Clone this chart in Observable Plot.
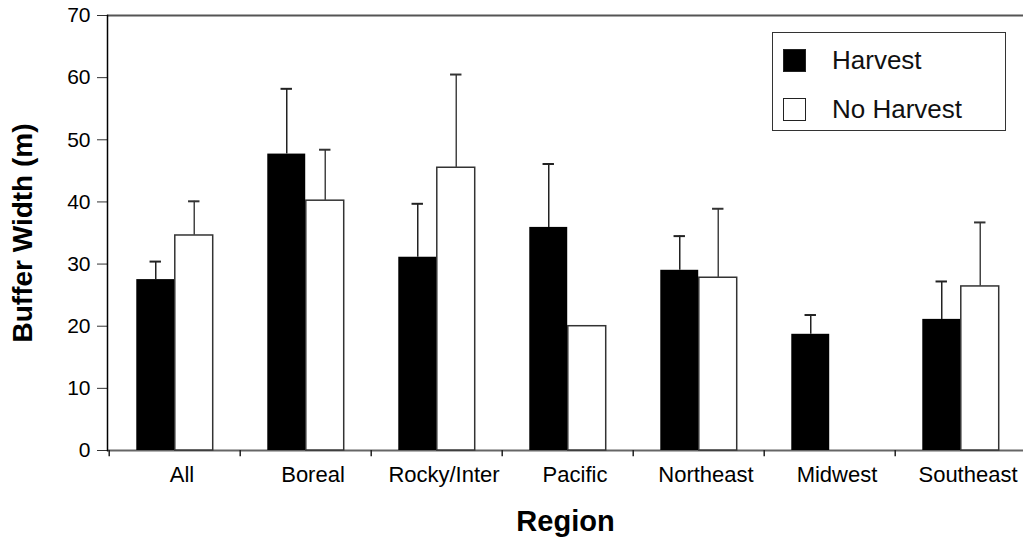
<!DOCTYPE html>
<html>
<head>
<meta charset="utf-8">
<script src="https://cdn.jsdelivr.net/npm/d3@7"></script>
<script src="https://cdn.jsdelivr.net/npm/@observablehq/plot@0.6"></script>
<style>
  html, body { margin: 0; padding: 0; background: #fff; overflow: hidden; }
  #wrap { position: relative; width: 1023px; height: 539px; font-family: "Liberation Sans", Arial, sans-serif; }
  #legend { position: absolute; left: 772px; top: 32px; width: 234px; height: 99px; border: 1.5px solid #333; background: #fff; box-sizing: border-box; }
  .item { position: absolute; left: 10px; display: flex; align-items: center; font-size: 26px; color: #111; }
  .sw { width: 23px; height: 23px; box-sizing: border-box; margin-right: 26px; }
</style>
</head>
<body>
<div id="wrap"></div>
<script>
const regions = ["All", "Boreal", "Rocky/Inter", "Pacific", "Northeast", "Midwest", "Southeast"];
const seriesNames = ["Harvest", "No Harvest"];
const harvest = [27.5, 47.7, 31.1, 35.9, 29.0, 18.7, 21.1];
const harvestErr = [2.9, 10.5, 8.6, 10.2, 5.5, 3.1, 6.1];
const noHarvest = [34.6, 40.2, 45.5, 20.0, 27.8, null, 26.4];
const noHarvestErr = [5.5, 8.2, 15.0, null, 11.1, null, 10.3];
const yTicks = [0, 10, 20, 30, 40, 50, 60, 70];
const yLabel = "Buffer Width (m)";
const xLabel = "Region";

const rows = [];
regions.forEach((r, i) => {
  if (harvest[i] != null) rows.push({region: r, series: seriesNames[0], value: harvest[i], err: harvestErr[i]});
  if (noHarvest[i] != null) rows.push({region: r, series: seriesNames[1], value: noHarvest[i], err: noHarvestErr[i]});
});
const H = rows.filter(d => d.series === seriesNames[0]);
const N = rows.filter(d => d.series === seriesNames[1]);
const HE = H.filter(d => d.err != null);
const NE = N.filter(d => d.err != null);

const x0 = 107, x1 = 1028;
const bw = (x1 - x0) / regions.length;
const barW = 38.5;
const outer = (bw - 2 * barW) / 2;
const cap = 6;
const off = barW / 2;

const chart = Plot.plot({
  width: 1023,
  height: 539,
  marginTop: 15,
  marginBottom: 89,
  marginLeft: 107,
  marginRight: 0,
  style: {fontFamily: "Liberation Sans, Arial, sans-serif", background: "#fff", overflow: "visible"},
  x: {type: "band", domain: regions, range: [x0, x1], padding: 0},
  y: {domain: [0, 70]},
  marks: [
    Plot.ruleY([70], {stroke: "#555", strokeWidth: 2}),
    Plot.ruleY([0], {stroke: "#666", strokeWidth: 2}),
    Plot.ruleX(regions, {x: d => d, y1: 0, y2: -1, dx: -bw / 2, stroke: "#222", strokeWidth: 1.5}),
    Plot.barY(H, {x: "region", y: "value", fill: "#000", insetLeft: outer, insetRight: bw - outer - barW}),
    Plot.barY(N, {x: "region", y: "value", fill: "#fff", stroke: "#333", strokeWidth: 1.5, insetLeft: outer + barW, insetRight: outer}),
    Plot.ruleX(HE, {x: "region", y1: "value", y2: d => d.value + d.err, dx: -off, stroke: "#222", strokeWidth: 1.5}),
    Plot.ruleX(NE, {x: "region", y1: "value", y2: d => d.value + d.err, dx: off, stroke: "#444", strokeWidth: 1.5}),
    Plot.tickY(HE, {x: "region", y: d => d.value + d.err, insetLeft: bw / 2 - off - cap, insetRight: bw / 2 + off - cap, stroke: "#222", strokeWidth: 2}),
    Plot.tickY(NE, {x: "region", y: d => d.value + d.err, insetLeft: bw / 2 + off - cap, insetRight: bw / 2 - off - cap, stroke: "#333", strokeWidth: 2}),
    Plot.axisY({ticks: yTicks, tickSize: 10, tickPadding: 7, fontSize: 21, stroke: "#333", label: null, tickFormat: d => String(d)}),
    Plot.axisX({tickSize: 0, tickPadding: 16, fontSize: 22, label: null, dx: 7}),
    Plot.frame({anchor: "left", stroke: "#000", strokeWidth: 1.5}),
    Plot.text([yLabel], {frameAnchor: "left", textAnchor: "middle", rotate: -90, dx: -84, fontSize: 28, fontWeight: "bold", fill: "#000"}),
    Plot.text([xLabel], {frameAnchor: "bottom", textAnchor: "middle", dy: 71, lineAnchor: "middle", fontSize: 29, fontWeight: "bold", fill: "#000"})
  ]
});

const wrap = document.getElementById("wrap");
wrap.appendChild(chart);
const legend = document.createElement("div");
legend.id = "legend";
seriesNames.forEach((s, i) => {
  const item = document.createElement("div");
  item.className = "item";
  item.style.top = (i === 0 ? 12 : 61) + "px";
  const sw = document.createElement("div");
  sw.className = "sw";
  sw.style.background = i === 0 ? "#000" : "#fff";
  sw.style.border = "1.5px solid #222";
  item.appendChild(sw);
  const t = document.createElement("span");
  t.textContent = s;
  item.appendChild(t);
  legend.appendChild(item);
});
wrap.appendChild(legend);
</script>
</body>
</html>
